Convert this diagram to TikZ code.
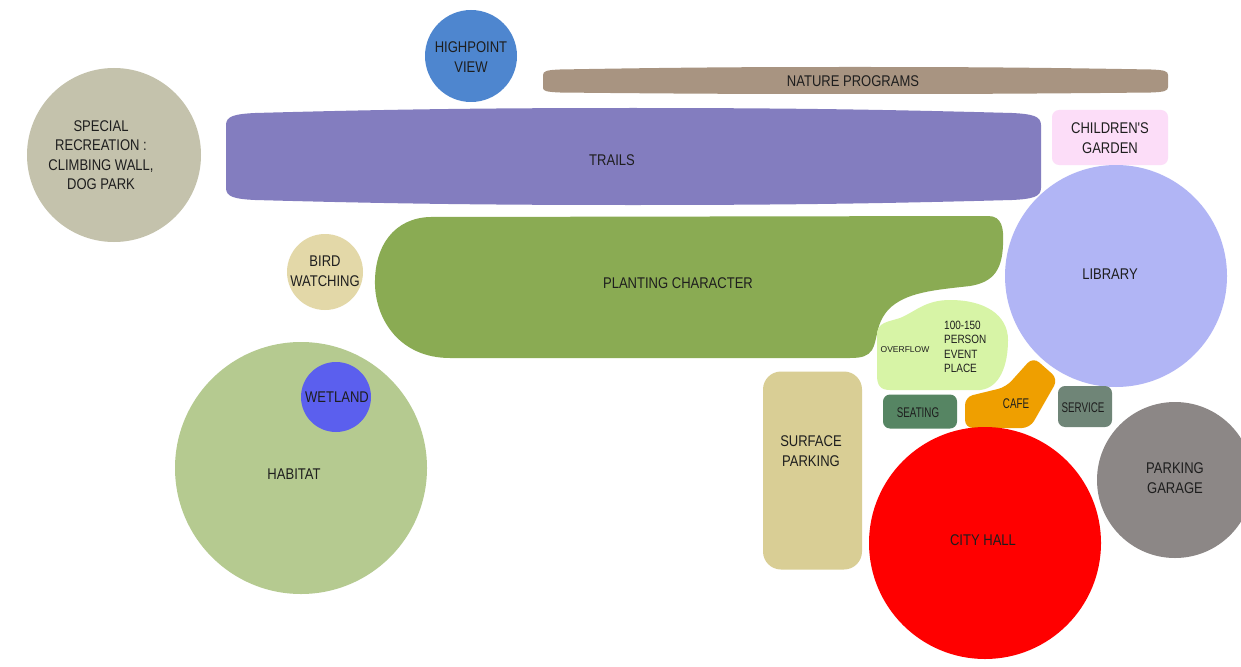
\documentclass[tikz,border=0pt]{standalone}
\usepackage{fontspec}
\setmainfont{Liberation Sans}
\newfontfamily\fA[FakeStretch=0.84]{Liberation Sans}
\newfontfamily\fB[FakeStretch=0.70]{Liberation Sans}
\newfontfamily\fC[FakeStretch=0.83]{Liberation Sans}
\definecolor{cRec}{HTML}{C4C2AC}
\definecolor{cHigh}{HTML}{4E86CF}
\definecolor{cNat}{HTML}{A89481}
\definecolor{cTrail}{HTML}{837DBF}
\definecolor{cChild}{HTML}{FCDDF8}
\definecolor{cLib}{HTML}{B1B5F5}
\definecolor{cBird}{HTML}{E3D8A8}
\definecolor{cPlant}{HTML}{8AAB53}
\definecolor{cOver}{HTML}{D7F4A6}
\definecolor{cSeat}{HTML}{568563}
\definecolor{cCafe}{HTML}{EF9F00}
\definecolor{cServ}{HTML}{6F8577}
\definecolor{cSurf}{HTML}{D9CE95}
\definecolor{cCity}{HTML}{FF0000}
\definecolor{cGar}{HTML}{8C8786}
\definecolor{cHab}{HTML}{B5CA90}
\definecolor{cWet}{HTML}{5B5FEE}
\definecolor{cTxt}{HTML}{1E1E1E}
\begin{document}
\begin{tikzpicture}[x=1pt,y=-1pt,
  lbl/.style={text=cTxt,font=\fA\fontsize{15.5}{19.5}\selectfont,align=center,inner sep=0pt},
  sml/.style={text=cTxt,font=\fB\fontsize{14}{17}\selectfont,align=center,inner sep=0pt},
  disc/.style={circle,inner sep=0pt,draw=none},
  blk/.style={rounded corners=7pt,inner sep=0pt,draw=none}]
\useasboundingbox (0,0) rectangle (1241,666);
\fill[white] (0,0) rectangle (1241,666);
% circles
\node[disc,fill=cRec,minimum size=174pt] (rec) at (114,155) {};
\node[lbl] at (101,155) {SPECIAL\\RECREATION :\\CLIMBING WALL,\\DOG PARK};
\node[disc,fill=cHigh,minimum size=92pt] (high) at (471,56) {};
\node[lbl] at (471,57) {HIGHPOINT\\VIEW};
% nature programs
\fill[cNat] (543,88) -- (543,75) .. controls (543,71) and (547,70) .. (560,69.5) .. controls (700,67) and (780,67) .. (855,67) .. controls (930,67) and (1010,67) .. (1151,69.5) .. controls (1164,70) and (1168,71) .. (1168,75) -- (1168,87) .. controls (1168,91) and (1164,92) .. (1151,92.5) .. controls (1010,94) and (930,94) .. (855,94) .. controls (780,94) and (700,94) .. (560,92.5) .. controls (547,92) and (543,91) .. (543,88) -- cycle;
\node[lbl] (nat) at (853,81) {NATURE PROGRAMS};
% trails
\fill[cTrail] (226,188) -- (226,125) .. controls (226,116) and (235,114) .. (255,113) .. controls (400,109) and (500,108) .. (633,108) .. controls (766,108) and (866,109) .. (1012,113) .. controls (1032,114) and (1041,116) .. (1041,125) -- (1041,188) .. controls (1041,197) and (1032,199) .. (1012,200) .. controls (866,204) and (766,205) .. (633,205) .. controls (500,205) and (400,204) .. (255,200) .. controls (235,199) and (226,197) .. (226,188) -- cycle;
\node[lbl] (trails) at (612,160) {TRAILS};
% children's garden
\node[blk,fill=cChild,minimum width=116pt,minimum height=55pt] (child) at (1110,137.5) {};
\node[lbl] at (1110,138) {CHILDREN'S\\GARDEN};
% library
\node[disc,fill=cLib,minimum size=222pt] (lib) at (1116,276) {};
\node[lbl] at (1110,274) {LIBRARY};
% bird watching
\node[disc,fill=cBird,minimum size=76pt] (bird) at (325,272) {};
\node[lbl] at (325,271) {BIRD\\WATCHING};
% planting character
\fill[cPlant] (430,217) -- (988,216) .. controls (1002,216) and (1004,228) .. (1003,245) .. controls (1002,268) and (995,282) .. (970,286) .. controls (935,290) and (905,292) .. (888,310) .. controls (875,325) and (878,340) .. (872,350) .. controls (868,356) and (862,358) .. (850,358) -- (450,358) .. controls (400,358) and (376,320) .. (375,285) .. controls (374,245) and (395,218) .. (430,217) -- cycle;
\node[lbl] (plant) at (678,283) {PLANTING CHARACTER};
% overflow / event place
\fill[cOver] (877,335) .. controls (877,322) and (888,322) .. (900,318) .. controls (915,312) and (925,300) .. (950,300) .. controls (985,300) and (1008,315) .. (1008,340) .. controls (1008,365) and (1000,388) .. (980,390) -- (890,390) .. controls (880,390) and (877,385) .. (877,375) -- cycle;
\node[text=cTxt,font=\fontsize{8.5}{10}\selectfont,inner sep=0pt] (over) at (905,350) {OVERFLOW};
\node[text=cTxt,font=\fC\fontsize{12}{14.5}\selectfont,align=left,anchor=west,inner sep=0pt] (event) at (944,347) {100-150\\PERSON\\EVENT\\PLACE};
% seating
\node[blk,fill=cSeat,minimum width=74pt,minimum height=34pt] (seat) at (920,411.5) {};
\node[sml] at (918,413) {SEATING};
% cafe
\fill[cCafe,rounded corners=8pt] (965,397) -- (1006,387) -- (1033,357) -- (1058,379) -- (1030,428) -- (965,428) -- cycle;
\node[sml] (cafe) at (1016,404) {CAFE};
% service
\node[blk,fill=cServ,minimum width=54pt,minimum height=41pt] (serv) at (1085,406.5) {};
\node[sml] at (1083,408) {SERVICE};
% surface parking
\node[rounded corners=18pt,inner sep=0pt,fill=cSurf,minimum width=99pt,minimum height=198pt] (surf) at (812.5,470.5) {};
\node[lbl] at (811,451) {SURFACE\\PARKING};
% city hall
\node[disc,fill=cCity,minimum size=232pt] (city) at (985,543) {};
\node[lbl] at (983,540) {CITY HALL};
% parking garage
\node[disc,fill=cGar,minimum size=156pt] (gar) at (1175,480) {};
\node[lbl] at (1175,478) {PARKING\\GARAGE};
% habitat
\node[disc,fill=cHab,minimum size=252pt] (hab) at (301,468) {};
\node[lbl] at (294,474) {HABITAT};
\node[disc,fill=cWet,minimum size=70pt] (wet) at (336,397) {};
\node[lbl] at (337,397) {WETLAND};
\end{tikzpicture}
\end{document}
